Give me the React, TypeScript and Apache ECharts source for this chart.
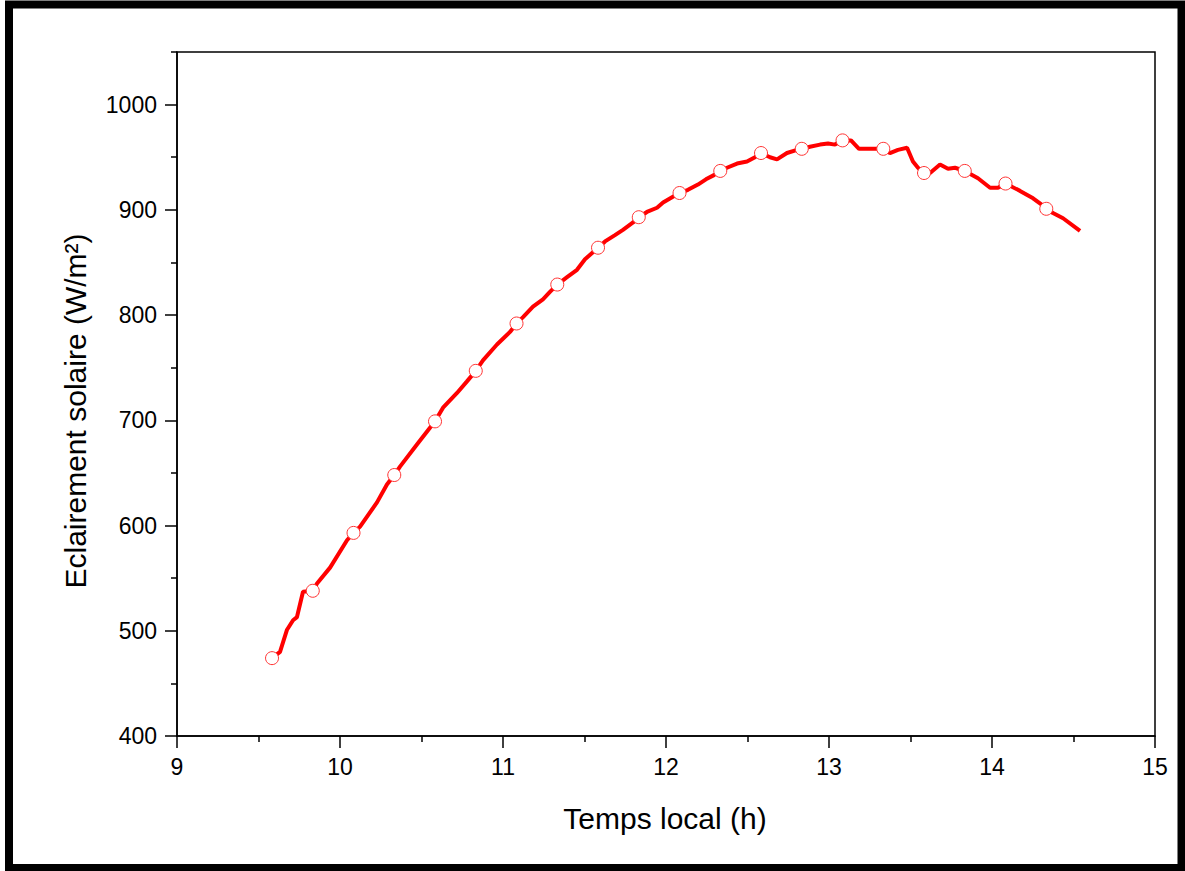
import React, { useEffect, useRef } from "react";
import * as echarts from "echarts";

const lineTimes = [
  9.583, 9.632, 9.675, 9.712, 9.736, 9.773, 9.833, 9.859, 9.939, 10.043, 10.083, 10.123, 10.227, 10.288,
  10.333, 10.368, 10.472, 10.552, 10.583, 10.632, 10.718, 10.779, 10.833, 10.877, 10.963, 11.043, 11.083,
  11.123, 11.184, 11.245, 11.288, 11.333, 11.393, 11.454, 11.503, 11.583, 11.626, 11.687, 11.736, 11.798,
  11.833, 11.883, 11.945, 11.982, 12.037, 12.083, 12.135, 12.196, 12.245, 12.294, 12.333, 12.374, 12.436,
  12.497, 12.546, 12.583, 12.638, 12.681, 12.742, 12.804, 12.833, 12.883, 12.945, 12.994, 13.037, 13.083,
  13.135, 13.184, 13.258, 13.333, 13.374, 13.423, 13.479, 13.515, 13.546, 13.583, 13.62, 13.681, 13.73,
  13.773, 13.833, 13.914, 13.988, 14.037, 14.083, 14.172, 14.252, 14.313, 14.333, 14.374, 14.436, 14.54,
];
const lineValues = [
  474, 480, 501, 510, 513, 537, 538, 545, 560, 586, 593, 599, 622, 639,
  648, 656, 677, 693, 699, 712, 726, 737, 747, 757, 772, 784, 792,
  798, 808, 815, 822, 829, 836, 843, 853, 864, 870, 876, 881, 888,
  893, 898, 902, 907, 912, 916, 919, 924, 929, 933, 937, 940, 944,
  946, 950, 954, 950, 948, 954, 957, 958, 960, 962, 963, 962, 966,
  966, 958, 958, 958, 954, 957, 959, 946, 940, 935, 935, 943, 939,
  940, 937, 930, 921, 921, 925, 918, 911, 904, 901, 897, 892, 880,
];

const markerTimes = [
  9.583, 9.833, 10.083, 10.333, 10.583, 10.833, 11.083, 11.333, 11.583, 11.833,
  12.083, 12.333, 12.583, 12.833, 13.083, 13.333, 13.583, 13.833, 14.083, 14.333,
];
const markerValues = [
  474, 538, 593, 648, 699, 747, 792, 829, 864, 893,
  916, 937, 954, 958, 966, 958, 935, 937, 925, 901,
];

const yMajorTicks = [400, 500, 600, 700, 800, 900, 1000];
const yMinorTicks = [450, 550, 650, 750, 850, 950, 1050];

const xTitle = "Temps local (h)";
const yTitle = "Eclairement solaire (W/m²)";

const FONT = "'Liberation Sans', Arial, sans-serif";

export default function App() {
  const ref = useRef<HTMLDivElement>(null);

  useEffect(() => {
    if (!ref.current) return;
    const chart = echarts.init(ref.current, null, { renderer: "svg" });
    const axisLine = { show: true, lineStyle: { color: "#000", width: 1.5 } };
    chart.setOption({
      animation: false,
      backgroundColor: "#fff",
      grid: {
        left: 177,
        right: 30,
        top: 52,
        bottom: 135,
        show: true,
        borderColor: "#000",
        borderWidth: 1.5,
        backgroundColor: "transparent",
      },
      xAxis: {
        type: "value",
        min: 9,
        max: 15,
        interval: 1,
        axisLine,
        axisTick: { show: true, inside: false, length: 12, lineStyle: { color: "#000", width: 1.5 } },
        minorTick: { show: true, splitNumber: 2, length: 6, lineStyle: { color: "#000", width: 1.5 } },
        axisLabel: {
          color: "#000",
          fontSize: 23,
          fontFamily: FONT,
          margin: 19,
          formatter: (v: number) => String(v),
        },
        splitLine: { show: false },
      },
      yAxis: [
        {
          type: "value",
          min: 400,
          max: 1050,
          interval: 100,
          axisLine,
          axisTick: {
            show: true,
            inside: false,
            length: 12,
            customValues: yMajorTicks,
            lineStyle: { color: "#000", width: 1.5 },
          },
          axisLabel: {
            color: "#000",
            fontSize: 23,
            fontFamily: FONT,
            margin: 20,
            customValues: yMajorTicks,
            formatter: (v: number) => String(v),
          },
          splitLine: { show: false },
        },
        {
          type: "value",
          min: 400,
          max: 1050,
          interval: 50,
          position: "left",
          axisLine: { show: false },
          axisTick: {
            show: true,
            inside: false,
            length: 6,
            customValues: yMinorTicks,
            lineStyle: { color: "#000", width: 1.5 },
          },
          axisLabel: { show: false },
          splitLine: { show: false },
        },
      ],
      series: [
        {
          type: "line",
          data: lineTimes.map((t, i) => [t, lineValues[i]]),
          showSymbol: false,
          symbol: "none",
          lineStyle: { color: "#ff0000", width: 4 },
          z: 2,
        },
        {
          type: "scatter",
          data: markerTimes.map((t, i) => [t, markerValues[i]]),
          symbol: "circle",
          symbolSize: 13,
          itemStyle: { color: "#fff", borderColor: "#ff3333", borderWidth: 1, opacity: 1 },
          z: 3,
        },
      ],
      graphic: [
        {
          type: "rect",
          shape: { x: 9, y: 4.5, width: 1172.5, height: 863.5 },
          style: { fill: "none", stroke: "#000", lineWidth: 8 },
          silent: true,
        },
        {
          type: "text",
          x: 665,
          y: 818,
          style: {
            text: xTitle,
            fill: "#000",
            fontSize: 30,
            fontFamily: FONT,
            align: "center",
            verticalAlign: "middle",
          },
        },
        {
          type: "text",
          x: 75,
          y: 411,
          rotation: Math.PI / 2,
          style: {
            text: yTitle,
            fill: "#000",
            fontSize: 30,
            fontFamily: FONT,
            align: "center",
            verticalAlign: "middle",
          },
        },
      ],
    });
    return () => chart.dispose();
  }, []);

  return (
    <div
      ref={ref}
      style={{ position: "fixed", left: 0, top: 0, width: 1185, height: 871, background: "#fff" }}
    />
  );
}
